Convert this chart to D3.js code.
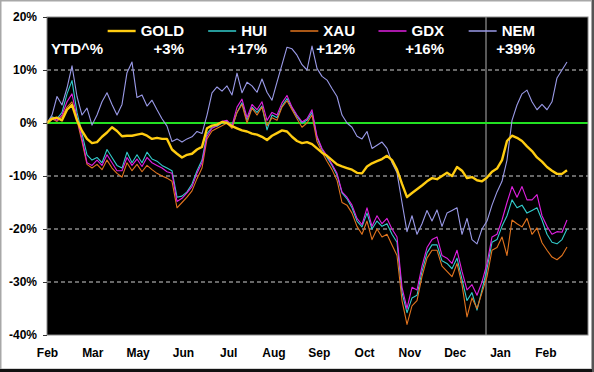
<!DOCTYPE html>
<html><head><meta charset="utf-8">
<script src="https://cdn.jsdelivr.net/npm/d3@7"></script>
<style>html,body{margin:0;padding:0;background:#fff;}svg{display:block;font-family:Arial,"Liberation Sans",sans-serif;}</style>
</head><body>
<script>
// ---- data (YTD % change, sampled roughly every 2 trading days) ----
const monthLabels = ["Feb","Mar","May","Jun","Jul","Aug","Sep","Oct","Nov","Dec","Jan","Feb"];
const pointsPerLabel = 9.06;
const totalSlots = 108.2;
const yearEndIdx = 87.8;
const yTicks = [20,10,0,-10,-20,-30,-40];
const gridVals = [10,-10,-20,-30];

const seriesNames = ["GOLD","HUI","XAU","GDX","NEM"];
const ytdLabels = ["+3%","+17%","+12%","+16%","+39%"];
const seriesColors = ["#ffcc11","#33cccc","#e2741e","#e020e0","#9a9ae8"];

const gold = [0,0.8,1.0,0.5,2.5,3.4,0.5,-1.5,-3.0,-3.8,-3.6,-2.6,-1.8,-0.8,-1.5,-2.5,-2.4,-2.4,-2.2,-2.0,
 -2.4,-3.0,-2.8,-3.0,-3.0,-5.0,-5.8,-6.5,-6.0,-5.8,-5.0,-4.5,-1.0,-0.5,-0.3,0.2,0,-0.6,-1.0,-1.4,
 -1.6,-2.0,-2.2,-2.6,-3.2,-2.4,-1.9,-1.4,-1.6,-2.6,-3.4,-3.8,-3.6,-4.0,-4.8,-5.6,-6.2,-7.0,-7.8,-8.2,
 -8.5,-8.8,-9.4,-9.5,-8.2,-7.6,-7.2,-6.8,-6.2,-7.0,-8.8,-11.5,-14.0,-13.2,-12.5,-11.8,-11.0,-10.4,-10.6,-10.0,
 -9.4,-10.0,-8.3,-9.0,-10.4,-10.2,-10.8,-11.0,-10.3,-9.2,-8.6,-7.0,-3.4,-2.4,-2.8,-3.4,-4.4,-5.3,-6.5,-7.3,
 -8.3,-9.0,-9.6,-9.6,-8.9];
const hui = [0,1.2,0.8,2.0,5.5,8.0,2.0,-2.0,-6.0,-7.0,-6.5,-7.5,-5.0,-6.5,-8.0,-8.5,-5.5,-7.5,-6.0,-7.5,
 -5.5,-6.8,-7.2,-8.0,-8.5,-9.0,-14.0,-13.8,-13.0,-11.5,-9.0,-7.0,-2.0,-0.8,-0.6,0.0,0.3,-0.8,2.0,3.8,
 0.5,3.0,2.0,3.2,-1.3,1.5,1.0,3.2,4.6,2.8,1.2,0.0,0.5,2.0,-2.8,-5.0,-6.5,-8.0,-9.8,-13.2,
 -14.3,-16.0,-18.5,-19.6,-17.0,-20.0,-18.5,-19.5,-19.0,-21.0,-22.5,-32.0,-35.8,-33.0,-32.5,-28.0,-24.5,-23.0,-23.0,-26.0,
 -26.5,-27.5,-25.5,-29.5,-33.5,-32.0,-35.3,-31.5,-27.5,-22.5,-22.0,-19.5,-17.5,-14.5,-16.0,-15.5,-17.0,-16.5,-16.0,-18.3,
 -21.0,-22.5,-22.8,-22.0,-20.0];
const xau = [0,0.8,0.3,1.2,3.0,4.0,0.5,-3.5,-7.8,-8.5,-7.8,-8.8,-7.0,-8.5,-9.5,-10.2,-7.5,-9.0,-7.8,-9.2,
 -8.0,-8.8,-9.5,-10.0,-10.4,-11.0,-16.0,-15.0,-14.0,-12.8,-10.5,-8.5,-3.0,-1.5,-1.0,-0.5,0.0,-1.0,2.0,3.5,
 0.0,2.8,1.5,3.0,-0.5,1.0,0.5,3.0,4.2,2.5,0.8,-0.8,0.0,1.5,-3.5,-5.5,-7.2,-8.8,-10.8,-15.0,
 -15.5,-17.0,-19.5,-21.0,-18.5,-22.0,-20.0,-21.5,-21.0,-23.0,-25.0,-33.5,-38.0,-34.5,-33.5,-29.0,-25.5,-24.0,-24.0,-27.0,
 -28.0,-29.0,-26.5,-30.5,-36.6,-33.0,-35.0,-32.0,-29.0,-24.0,-23.5,-21.5,-25.0,-18.3,-19.0,-19.6,-18.0,-21.0,-19.8,-22.6,
 -24.0,-25.3,-25.8,-25.0,-23.4];
const gdx = [0,1.0,0.5,1.5,4.0,5.5,1.0,-3.0,-7.5,-8.0,-7.0,-8.0,-6.0,-7.5,-9.0,-9.0,-6.5,-8.0,-6.8,-8.2,
 -6.5,-7.5,-8.0,-8.5,-9.2,-9.5,-14.8,-14.2,-13.2,-12.0,-9.5,-7.5,-2.5,-1.0,-0.5,0.3,0.5,-0.5,3.0,4.5,
 1.0,3.5,2.5,4.0,0.5,2.0,1.5,3.8,5.2,3.0,1.5,0.2,0.8,2.5,-2.5,-4.8,-6.2,-7.8,-9.5,-13.0,
 -14.0,-15.5,-18.0,-19.2,-16.0,-19.5,-17.5,-19.0,-18.0,-20.0,-21.5,-31.0,-35.0,-31.0,-31.5,-27.0,-23.5,-22.0,-21.5,-25.0,
 -25.5,-26.5,-24.0,-28.0,-31.5,-30.5,-32.5,-30.0,-26.5,-21.5,-21.0,-18.3,-15.0,-12.0,-14.0,-12.0,-14.5,-14.5,-13.5,-17.5,
 -19.5,-21.0,-20.5,-20.6,-18.3];
const nem = [0,1.5,5.0,3.4,6.6,10.8,5.0,1.5,2.8,-0.4,1.5,4.0,5.7,3.5,1.5,3.5,9.5,11.5,4.8,5.3,
 3.2,4.3,2.5,0.8,-0.6,-3.5,-3.0,-3.6,-3.0,-2.6,-1.6,-2.0,1.5,5.7,6.8,6.0,7.0,5.3,9.4,5.7,
 7.7,7.0,5.8,8.3,5.8,4.3,7.7,11.0,14.3,14.0,12.8,11.0,10.0,14.5,10.3,8.8,8.1,6.5,5.0,1.5,
 0.0,-0.8,-2.5,-3.0,-1.6,-4.8,-4.2,-3.6,-4.8,-7.5,-9.4,-15.0,-20.5,-17.5,-21.0,-19.0,-16.5,-18.5,-16.4,-19.5,
 -17.0,-16.5,-16.0,-21.0,-18.0,-22.0,-22.8,-20.0,-18.5,-15.5,-13.0,-11.0,-7.0,0.5,3.4,5.5,6.2,4.0,2.5,3.5,
 2.5,4.0,8.5,10.0,11.5];

// ---- layout ----
const W = 594, H = 372;
const plot = {l:47, r:588, t:17, b:335};

const svg = d3.select("body").append("svg").attr("width",W).attr("height",H);

// outer frame
svg.append("rect").attr("x",0).attr("y",0).attr("width",W).attr("height",H).attr("fill","#fff");
svg.append("rect").attr("x",0.75).attr("y",0.75).attr("width",W-3).attr("height",H-3.5)
  .attr("fill","none").attr("stroke","#a8a8a8").attr("stroke-width",1.5);
svg.append("line").attr("x1",0).attr("x2",W).attr("y1",H-1.5).attr("y2",H-1.5).attr("stroke","#111").attr("stroke-width",3);
svg.append("line").attr("x1",W-1).attr("x2",W-1).attr("y1",0).attr("y2",H).attr("stroke","#555").attr("stroke-width",2);

const x = d3.scaleLinear().domain([0,totalSlots]).range([plot.l,plot.r]);
const y = d3.scaleLinear().domain([-40,20]).range([plot.b,plot.t]);

// plot background
svg.append("rect").attr("x",plot.l).attr("y",plot.t).attr("width",plot.r-plot.l).attr("height",plot.b-plot.t)
  .attr("fill","#000");

// gridlines
svg.append("g").selectAll("line").data(gridVals).join("line")
  .attr("x1",plot.l).attr("x2",plot.r).attr("y1",d=>y(d)).attr("y2",d=>y(d))
  .attr("stroke","#cfcfcf").attr("stroke-width",1.2).attr("stroke-dasharray","4,3");

// year-end marker
svg.append("line").attr("x1",x(yearEndIdx)).attr("x2",x(yearEndIdx)).attr("y1",plot.t).attr("y2",plot.b)
  .attr("stroke","#b0b0b0").attr("stroke-width",1);

// zero line
svg.append("line").attr("x1",plot.l).attr("x2",plot.r).attr("y1",y(0)).attr("y2",y(0))
  .attr("stroke","#22e022").attr("stroke-width",2.2);

// series
const allSeries = [gold,hui,xau,gdx,nem];
const line = d3.line().x((d,i)=>x(i)).y(d=>y(d));
const drawOrder = [1,2,3,4,0];
drawOrder.forEach(k=>{
  svg.append("path").datum(allSeries[k]).attr("d",line).attr("fill","none")
    .attr("stroke",seriesColors[k]).attr("stroke-width",k===0?2.4:1.1).attr("stroke-linejoin","round");
});

// plot border
svg.append("rect").attr("x",plot.l).attr("y",plot.t).attr("width",plot.r-plot.l).attr("height",plot.b-plot.t)
  .attr("fill","none").attr("stroke","#888").attr("stroke-width",1);

// y axis
const yAxis = d3.axisLeft(y).tickValues(yTicks).tickSize(4).tickPadding(6).tickFormat(d=>d+"%");
const ya = svg.append("g").attr("transform",`translate(${plot.l},0)`).call(yAxis);
ya.select(".domain").remove();
ya.selectAll("line").attr("stroke","#333");
ya.selectAll("text").attr("font-size","12px").attr("font-weight","bold").attr("fill","#000")
  .attr("font-family","Arial, 'Liberation Sans', sans-serif");

// x axis
const xTickVals = monthLabels.map((m,i)=>i*pointsPerLabel);
const xAxis = d3.axisBottom(x).tickValues(xTickVals).tickSize(0).tickPadding(13).tickFormat((d,i)=>monthLabels[i]);
const xa = svg.append("g").attr("transform",`translate(0,${plot.b})`).call(xAxis);
xa.select(".domain").remove();
xa.selectAll("text").attr("font-size","12px").attr("font-weight","bold").attr("fill","#000")
  .attr("font-family","Arial, 'Liberation Sans', sans-serif");

// legend
const legRight = [184,267,355,444,535];
const lg = svg.append("g").attr("font-family","Arial, 'Liberation Sans', sans-serif")
  .attr("font-weight","bold").attr("font-size","15px").attr("fill","#fff");
lg.append("text").attr("x",51).attr("y",54).text("YTD^%");
seriesNames.forEach((n,i)=>{
  const t = lg.append("text").attr("x",legRight[i]).attr("y",36).attr("text-anchor","end").text(n);
  const w = t.node().getComputedTextLength();
  const x2 = legRight[i]-w-5;
  lg.append("line").attr("x1",x2-28).attr("x2",x2).attr("y1",31).attr("y2",31)
    .attr("stroke",seriesColors[i]).attr("stroke-width",i===0?2.4:1.5);
  lg.append("text").attr("x",legRight[i]).attr("y",54).attr("text-anchor","end").text(ytdLabels[i]);
});
</script>
</body></html>
